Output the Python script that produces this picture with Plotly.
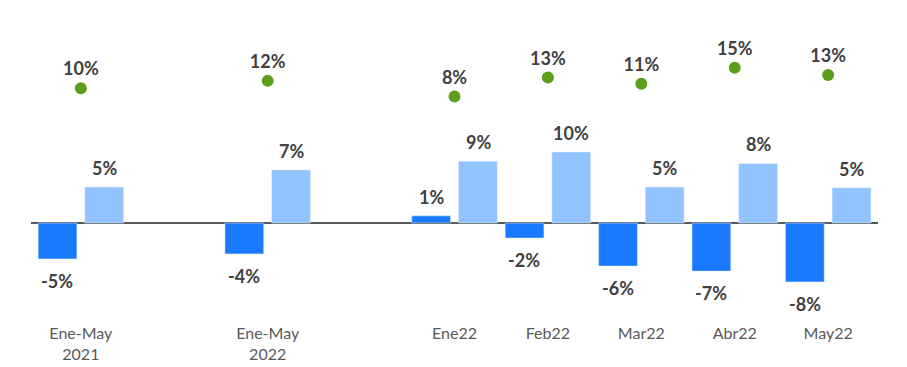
import plotly.graph_objects as go

categories = ["Ene-May<br>2021", " ", "Ene-May<br>2022", "  ", "Ene22", "Feb22", "Mar22", "Abr22", "May22"]
bar_cats = ["Ene-May<br>2021", "Ene-May<br>2022", "Ene22", "Feb22", "Mar22", "Abr22", "May22"]
dark_vals = [-5.0, -4.3, 1.0, -2.1, -6.0, -6.7, -8.2]
light_vals = [5.0, 7.4, 8.6, 9.9, 5.0, 8.3, 4.9]
dot_vals = [10.0, 11.8, 8.0, 12.6, 11.1, 15.0, 13.2]

DARK = "#1a7aff"
LIGHT = "#92c3ff"
GREEN = "#5a9e1a"
TXT = "#404040"
FONT = "Lato"

fig = go.Figure()
fig.add_trace(go.Bar(x=bar_cats, y=dark_vals, marker=dict(color=DARK), name="a"))
fig.add_trace(go.Bar(x=bar_cats, y=light_vals, marker=dict(color=LIGHT), name="b"))
fig.add_trace(go.Scatter(
    x=bar_cats, y=dot_vals, yaxis="y2", mode="markers+text",
    marker=dict(color=GREEN, size=12),
    text=[f"{v:.0f}%" for v in dot_vals], textposition="top center",
    textfont=dict(family=FONT, size=18, color=TXT, weight="bold"),
    cliponaxis=False, name="c"))

annotations = []
for vals, shift in ((dark_vals, -23.5), (light_vals, 23.5)):
    for c, v in zip(bar_cats, vals):
        annotations.append(dict(
            x=c, y=v, xref="x", yref="y", xshift=shift,
            yshift=6 if v >= 0 else -9,
            yanchor="bottom" if v >= 0 else "top",
            text=f"<b>{v:.0f}%</b>", showarrow=False,
            font=dict(family=FONT, size=18, color=TXT)))

fig.update_layout(
    width=907, height=367,
    margin=dict(l=31, r=29, t=10, b=62),
    paper_bgcolor="white", plot_bgcolor="white",
    showlegend=False,
    barmode="group", bargap=0.0, bargroupgap=0.17,
    annotations=annotations,
    xaxis=dict(type="category", categoryorder="array", categoryarray=categories,
               showgrid=False, showline=False, ticks="", ticklabelstandoff=17,
               automargin=False,
               tickfont=dict(family=FONT, size=16, color="#595959")),
    yaxis=dict(range=[-11.42, 29.67], showgrid=False, showticklabels=False,
               zeroline=True, zerolinecolor="#595959", zerolinewidth=1.5,
               automargin=False),
    yaxis2=dict(range=[-42.6, 29.0], overlaying="y", side="right",
                showgrid=False, showticklabels=False, zeroline=False,
                automargin=False),
)

fig.write_html("out.html", config={"displayModeBar": False},
               post_script="document.body.style.margin='0';document.body.style.overflow='hidden';")
